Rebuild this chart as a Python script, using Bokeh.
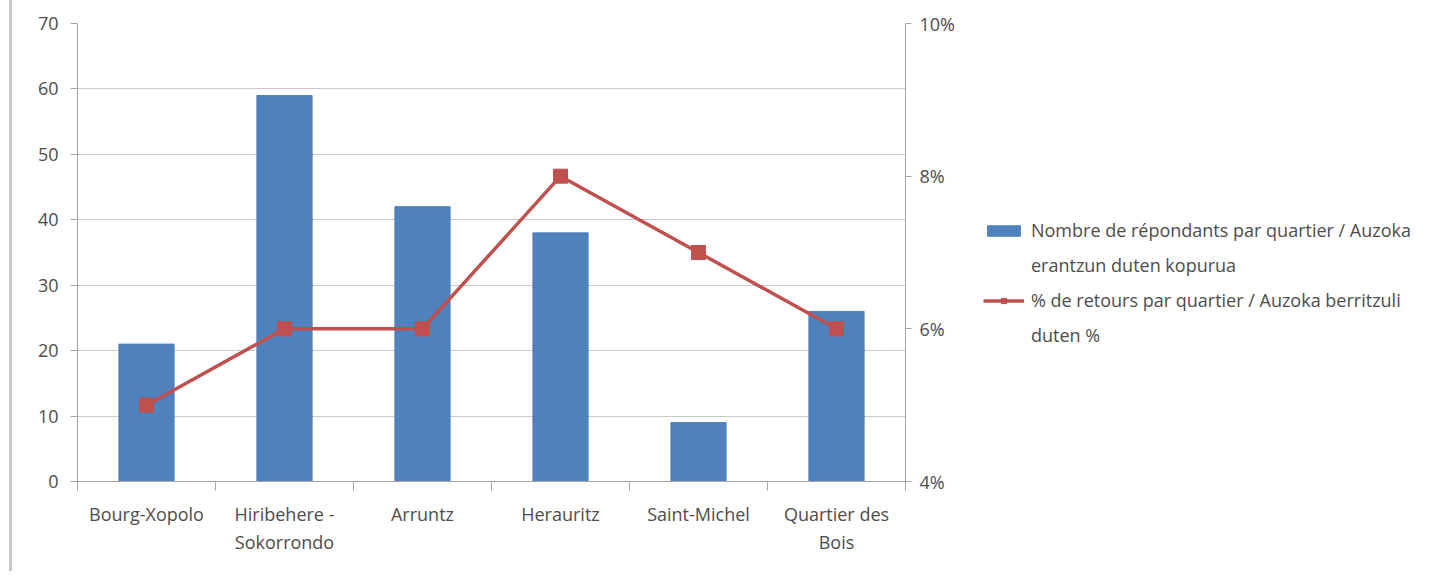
from bokeh.plotting import figure
from bokeh.models import (Range1d, LinearAxis, FixedTicker, NumeralTickFormatter,
                          Legend, LegendItem, ColumnDataSource, Grid)
from bokeh.embed import file_html
from bokeh.resources import INLINE

categories = ["Bourg-Xopolo", "Hiribehere -\nSokorrondo", "Arruntz", "Herauritz",
              "Saint-Michel", "Quartier des\nBois"]
respondents = [21, 59, 42, 38, 9, 26]
return_pct = [0.05, 0.06, 0.06, 0.08, 0.07, 0.06]
left_ticks = [0, 10, 20, 30, 40, 50, 60, 70]
right_ticks = [0.04, 0.06, 0.08, 0.10]
bar_label = ["Nombre de répondants par quartier / Auzoka", "erantzun duten kopurua"]
line_label = ["% de retours par quartier / Auzoka berritzuli", "duten %"]

FONT = "Open Sans"
TXT = "#4d4d4d"
AX = "#a6a6a6"
FS = "18px"

xs = [i + 0.5 for i in range(len(categories))]
src = ColumnDataSource(dict(x=xs, n=respondents, pct=return_pct))

p = figure(output_backend="svg", toolbar_location=None,
           frame_width=828, frame_height=458,
           min_border_left=65, min_border_top=23, min_border_right=527, min_border_bottom=90,
           x_range=Range1d(0, len(categories)), y_range=Range1d(0, 70),
           x_axis_type=None, y_axis_type=None)
p.outline_line_color = None
p.background_fill_color = "white"
p.border_fill_color = "white"
p.styles = {"border-left": "3px solid #c8c8c8", "margin-left": "9px"}

p.extra_y_ranges = {"pct": Range1d(0.04, 0.10)}

# left axis
yl = LinearAxis(ticker=FixedTicker(ticks=left_ticks, minor_ticks=[]))
yl.axis_line_color = AX
yl.major_tick_line_color = AX
yl.major_tick_out = 7
yl.major_tick_in = 0
yl.major_label_standoff = 12
yl.major_label_text_font = FONT
yl.major_label_text_font_size = FS
yl.major_label_text_color = TXT
p.add_layout(yl, "left")

# right axis
yr = LinearAxis(y_range_name="pct", ticker=FixedTicker(ticks=right_ticks, minor_ticks=[]),
                formatter=NumeralTickFormatter(format="0%"))
yr.axis_line_color = AX
yr.major_tick_line_color = AX
yr.major_tick_out = 6
yr.major_tick_in = 0
yr.major_label_standoff = 8
yr.major_label_text_font = FONT
yr.major_label_text_font_size = FS
yr.major_label_text_color = TXT
p.add_layout(yr, "right")

# bottom axis: labels at centers, ticks at boundaries
xb = LinearAxis(ticker=FixedTicker(ticks=xs, minor_ticks=list(range(len(categories) + 1))))
xb.major_label_overrides = {x: c for x, c in zip(xs, categories)}
xb.major_tick_line_color = None
xb.minor_tick_line_color = AX
xb.minor_tick_out = 9
xb.minor_tick_in = 0
xb.axis_line_color = AX
xb.major_label_standoff = 11
xb.major_label_text_font = FONT
xb.major_label_text_font_size = FS
xb.major_label_text_color = TXT
p.add_layout(xb, "below")

g = Grid(dimension=1, ticker=yl.ticker, grid_line_color="#c9c9c9", grid_line_width=1)
p.add_layout(g)

bars = p.vbar(x="x", top="n", width=0.4, bottom=0, source=src,
              fill_color="#4F81BD", line_color="#4F81BD")
ln = p.line(x="x", y="pct", y_range_name="pct", source=src,
            line_color="#C0504D", line_width=3.5)
mk = p.scatter(x="x", y="pct", y_range_name="pct", source=src, marker="square",
               size=14, fill_color="#C0504D", line_color="#C0504D")
# invisible renderer used only to carry legend continuation lines
blank = p.scatter(x=[], y=[], marker="square", size=1, fill_alpha=0, line_alpha=0)

legend = Legend(items=[LegendItem(label=bar_label[0], renderers=[bars]),
                       LegendItem(label=bar_label[1], renderers=[blank]),
                       LegendItem(label=line_label[0], renderers=[ln, mk]),
                       LegendItem(label=line_label[1], renderers=[blank])],
                location=(-205, 134), border_line_color=None, background_fill_alpha=0,
                label_text_font=FONT, label_text_font_size="18px",
                label_text_color=TXT, glyph_width=41, glyph_height=13,
                label_height=20, spacing=11, label_standoff=7, padding=0, margin=0)
p.add_layout(legend, "right")

open("out.html", "w").write(file_html(p, INLINE))
